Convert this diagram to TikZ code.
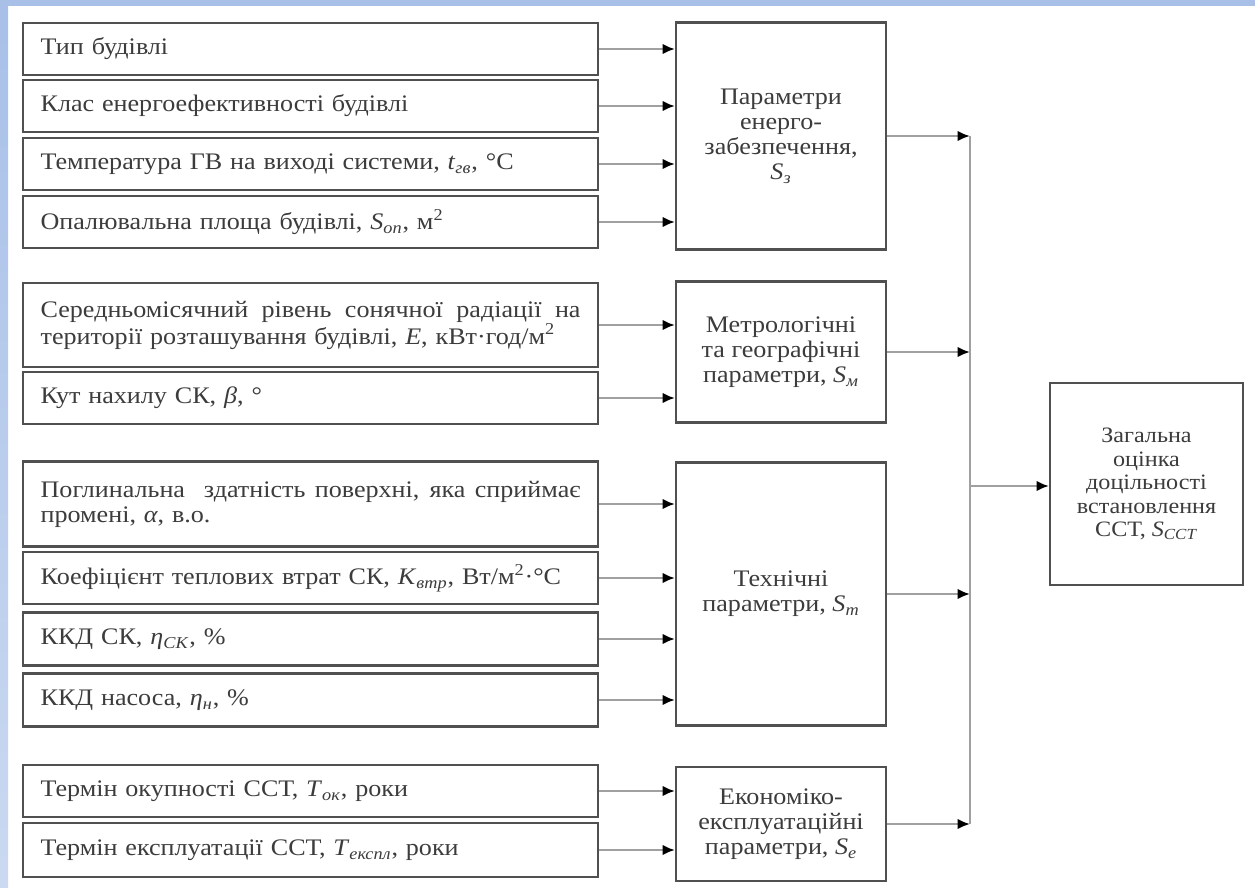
\documentclass[tikz,border=0pt]{standalone}
\usepackage{fontspec}
\setmainfont{Liberation Serif}[FakeStretch=1.1]
\usepackage{xcolor}
\usepackage{tikz}
\usetikzlibrary{arrows.meta}

\definecolor{bandblue}{RGB}{168,192,232}
\definecolor{boxgray}{RGB}{80,80,80}
\definecolor{linkgray}{RGB}{160,160,160}
\definecolor{textgray}{RGB}{60,60,60}

% значення з індексом
\newcommand{\pv}[2]{\textit{#1}\textsubscript{\textit{#2}}}
% рядок на всю ширину блока
\newcommand{\fullline}[1]{\hbox to \hsize{\spaceskip=0pt\xspaceskip=0pt #1}\par}

\tikzset{
    inbox/.style={draw=boxgray, line width=1.3pt, text=textgray, anchor=west,
        align=left, text width=10.8cm, inner xsep=0.35cm, inner ysep=0pt,
        font=\fontsize{13.5}{14.2}\selectfont},
    grpbox/.style={draw=boxgray, line width=1.3pt, text=textgray, align=center,
        minimum width=4.2cm, font=\fontsize{13.5}{14.2}\selectfont},
    link/.style={draw=linkgray, line width=1.3pt, -{Latex[black, length=7pt, width=6pt]}}
}

\begin{document}
\begin{tikzpicture}[x=0.02cm, y=-0.02cm]
                % 1. Тло
                \useasboundingbox (0,0) rectangle (1255,887);
                \fill[white] (0,0) rectangle (1255,887);
                \fill[bandblue] (0,0) rectangle (1255,6);
                \shade[top color=bandblue, bottom color=bandblue!60!white] (0,6) rectangle (8,887);

                % 2. Вхідні показники
                \foreach \nm/\yy/\hh/\txt in {
                    t1/49/1.04/{Тип будівлі},
                    t2/106/1.04/{Клас енергоефективності будівлі},
                    t3/164/1.04/{Температура ГВ на виході системи, \pv{t}{гв}, °C},
                    t4/222/1.04/{Опалювальна площа будівлі, \pv{S}{оп}, м\textsuperscript{2}},
                    t5/325/1.68/{\fullline{Середньомісячний рівень сонячної радіації на}території розташування будівлі, \textit{E}, кВт·год/м\textsuperscript{2}},
                    t6/398/1.04/{Кут нахилу СК, \textit{β}, °},
                    t7/504/1.70/{\fullline{Поглинальна\ \ здатність поверхні, яка сприймає}промені, \textit{α}, в.о.},
                    t8/578/1.04/{Коефіцієнт теплових втрат СК, \pv{K}{втр}, Вт/м\textsuperscript{2}·°C},
                    t9/639/1.06/{ККД СК, \pv{η}{СК}, \%},
                    t10/700/1.06/{ККД насоса, \pv{η}{н}, \%},
                    t11/791/1.03/{Термін окупності ССТ, \pv{T}{ок}, роки},
                    t12/850/1.07/{Термін експлуатації ССТ, \pv{T}{експл}, роки}
                } {
                    \node[inbox, minimum height=\hh cm] (\nm) at (22,\yy) {\txt};
                }

                % 3. Групи параметрів
                \node[grpbox, minimum height=4.54cm] (pA) at (781,136)
                    {Параметри\\енерго-\\забезпечення,\\\pv{S}{з}};
                \node[grpbox, minimum height=2.82cm] (pB) at (781,352)
                    {Метрологічні\\та географічні\\параметри, \pv{S}{м}};
                \node[grpbox, minimum height=5.26cm] (pC) at (781,594)
                    {Технічні\\параметри, \pv{S}{т}};
                \node[grpbox, minimum height=2.28cm] (pD) at (781,824)
                    {Економіко-\\експлуатаційні\\параметри, \pv{S}{е}};
                \node[grpbox, minimum width=3.86cm, minimum height=4.04cm,
                    font=\fontsize{12.5}{13.4}\selectfont] (res) at (1146.5,484)
                    {Загальна\\оцінка\\доцільності\\встановлення\\ССТ, \pv{S}{ССТ}};

                % 4. Зв'язки
                \foreach \nm/\grp in {t1/pA, t2/pA, t3/pA, t4/pA, t5/pB, t6/pB,
                        t7/pC, t8/pC, t9/pC, t10/pC, t11/pD, t12/pD} {
                    \draw[link] (\nm.east) -- (\nm.east -| \grp.west);
                }
                \coordinate (bus) at (970,486);
                \foreach \grp in {pA,pB,pC,pD} {
                    \draw[link] (\grp.east) -- (\grp.east -| bus);
                }
                \draw[draw=linkgray, line width=1.3pt] (pA.east -| bus) -- (pD.east -| bus);
                \draw[link] (bus) -- (bus -| res.west);
            \end{tikzpicture}
\end{document}
